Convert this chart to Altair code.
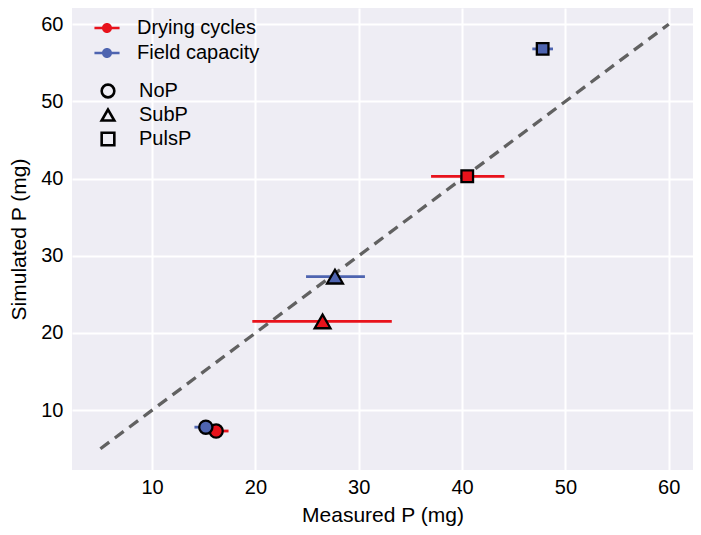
import altair as alt
import pandas as pd

# Data
treatments = ["Drying cycles", "Field capacity", "Drying cycles", "Field capacity", "Drying cycles", "Field capacity"]
fert = ["NoP", "NoP", "SubP", "SubP", "PulsP", "PulsP"]
measured = [16.2, 15.2, 26.5, 27.7, 40.5, 47.8]
simulated = [7.3, 7.8, 21.5, 27.3, 40.3, 56.8]
err_lo = [14.9, 14.1, 19.7, 24.9, 37.0, 46.8]
err_hi = [17.4, 16.5, 33.2, 30.6, 44.1, 48.8]
line_x = [5, 60]
line_y = [5, 60]

df = pd.DataFrame({"treat": treatments, "fert": fert, "mx": measured,
                   "sy": simulated, "lo": err_lo, "hi": err_hi})
line_df = pd.DataFrame({"x": line_x, "y": line_y})

RED = "#e8121b"
BLUE = "#4e64b0"
FONT = "Liberation Sans"
ticks = [10, 20, 30, 40, 50, 60]

xs = alt.Scale(domain=[2.25, 62.35], nice=False, zero=False)
ys = alt.Scale(domain=[2.25, 62.1], nice=False, zero=False)

color_scale = alt.Scale(domain=["Drying cycles", "Field capacity"], range=[RED, BLUE])
shape_scale = alt.Scale(domain=["NoP", "SubP", "PulsP"], range=["circle", "triangle-up", "square"])

common = dict(grid=True, gridColor="white", gridWidth=2, domain=False, ticks=False,
              labelFontSize=20, titleFontSize=21, labelFont=FONT, titleFont=FONT,
              titleFontWeight="normal", labelColor="black", titleColor="black")
xaxis = alt.Axis(values=ticks, title="Measured P (mg)", labelPadding=7, titlePadding=7, **common)
yaxis = alt.Axis(values=ticks, title="Simulated P (mg)", labelPadding=9, titlePadding=11, **common)

diag = alt.Chart(line_df).mark_line(color="#616161", strokeWidth=3.3, strokeDash=[11, 7]).encode(
    x=alt.X("x:Q", scale=xs, axis=xaxis),
    y=alt.Y("y:Q", scale=ys, axis=yaxis),
)

bar_symbol = ("M-1.5,-0.15L1.5,-0.15L1.5,0.15L-1.5,0.15Z "
              "M-0.6,0A0.6,0.6 0 1,1 0.6,0A0.6,0.6 0 1,1 -0.6,0Z")

errs = alt.Chart(df).mark_rule(strokeWidth=2.8).encode(
    x=alt.X("lo:Q", scale=xs),
    x2="hi:Q",
    y=alt.Y("sy:Q", scale=ys),
    color=alt.Color("treat:N", scale=color_scale, legend=alt.Legend(
        title=None, orient="none", legendX=25, legendY=10, symbolType=bar_symbol,
        symbolSize=280, symbolStrokeWidth=0, labelFontSize=20, labelFont=FONT,
        labelColor="black", rowPadding=5, labelOffset=20)),
)

pts = alt.Chart(df).mark_point(filled=True, stroke="black", strokeWidth=2.3, opacity=1).encode(
    x=alt.X("mx:Q", scale=xs),
    y=alt.Y("sy:Q", scale=ys),
    fill=alt.Fill("treat:N", scale=color_scale, legend=None),
    size=alt.SizeValue(value=175, condition=[
        {"test": "datum.fert === 'SubP'", "value": 250},
        {"test": "datum.fert === 'PulsP'", "value": 135},
    ]),
    shape=alt.Shape("fert:N", scale=shape_scale, legend=alt.Legend(
        title=None, orient="none", legendX=26, legendY=73, symbolFillColor="transparent",
        symbolStrokeColor="black", symbolStrokeWidth=2.6, symbolSize=160, labelFontSize=20,
        labelFont=FONT, labelColor="black", rowPadding=1, labelOffset=21)),
)

chart = alt.layer(diag, errs, pts).properties(
    width=621, height=462,
    autosize=alt.AutoSizeParams(type="none"),
    padding={"left": 64, "top": 0, "right": 0, "bottom": 57},
    background="white",
).configure_view(fill="#eeedf4", strokeWidth=0)

chart.save("out.html", embed_options={"renderer": "svg", "actions": False})
